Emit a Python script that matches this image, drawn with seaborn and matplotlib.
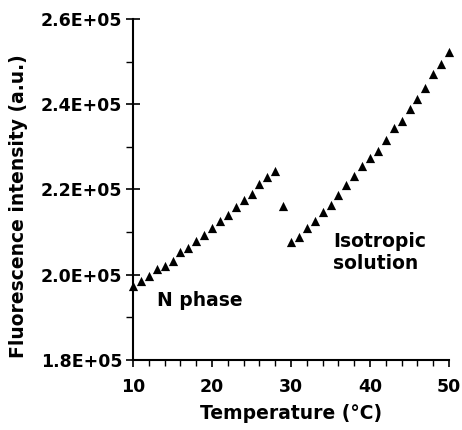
import matplotlib
matplotlib.use("Agg")
import matplotlib.pyplot as plt
import seaborn as sns
import pandas as pd
from matplotlib.ticker import MultipleLocator

sns.set_theme(style="white")
plt.rcParams['font.family'] = ['DejaVu Sans']
plt.rcParams['font.weight'] = 'bold'
plt.rcParams['text.color'] = 'black'
plt.rcParams['axes.labelcolor'] = 'black'
plt.rcParams['xtick.color'] = 'black'
plt.rcParams['ytick.color'] = 'black'

temperature = list(range(10, 51))
intensity = [197300, 198400, 199600, 201300, 202000, 203100, 205200, 206300, 208000, 209400,
             211000, 212700, 214100, 215800, 217600, 218900, 221200, 222800, 224300, 216200,
             207700, 208900, 210900, 212600, 214800, 216400, 218800, 221000, 223200, 225400,
             227300, 229100, 231700, 234500, 236000, 238800, 241300, 243800, 247000, 249500,
             252200]
x_ticks = [10, 20, 30, 40, 50]
y_ticks = [180000, 200000, 220000, 240000, 260000]
y_tick_labels = ["1.8E+05", "2.0E+05", "2.2E+05", "2.4E+05", "2.6E+05"]

df = pd.DataFrame({"Temperature": temperature, "Intensity": intensity})

fig = plt.figure(figsize=(4.62, 4.30), dpi=100)
ax = fig.add_axes([0.288, 0.163, 0.684, 0.793])
sns.scatterplot(data=df, x="Temperature", y="Intensity", marker="^", color="black",
                s=44, linewidth=0, ax=ax, clip_on=False, zorder=3)

ax.set_xlim(10, 50)
ax.set_ylim(180000, 260000)
ax.set_xticks(x_ticks)
ax.set_yticks(y_ticks)
ax.set_yticklabels(y_tick_labels)
ax.xaxis.set_minor_locator(MultipleLocator(2))
ax.yaxis.set_minor_locator(MultipleLocator(10000))

for s in ["top", "right"]:
    ax.spines[s].set_visible(False)
for s in ["left", "bottom"]:
    ax.spines[s].set_color("black")
    ax.spines[s].set_linewidth(1.5)

ax.tick_params(axis="x", which="major", direction="out", length=5, width=1.2, colors="black",
               labelsize=12.5, pad=8, bottom=True)
ax.tick_params(axis="x", which="minor", direction="out", length=4, width=1.0, colors="black", bottom=True)
ax.tick_params(axis="y", which="major", direction="inout", length=9.5, width=1.2, colors="black",
               labelsize=12.5, pad=3, left=True)
ax.tick_params(axis="y", which="minor", direction="out", length=5, width=1.0, colors="black", left=True)
for lbl in ax.get_xticklabels() + ax.get_yticklabels():
    lbl.set_fontweight("bold")
    lbl.set_color("black")

ax.set_xlabel("Temperature (°C)", fontsize=13.5, fontweight="bold", labelpad=6, color="black")
ax.set_ylabel("Fluorescence intensity (a.u.)", fontsize=13.5, fontweight="bold", color="black")
ax.yaxis.set_label_coords(-0.332, 0.45)

ax.text(13.0, 193900, "N phase", fontsize=13.5, fontweight="bold", va="center", ha="left", color="black")
ax.text(35.3, 205200, "Isotropic\nsolution", fontsize=13.5, fontweight="bold", va="center",
        ha="left", linespacing=1.15, color="black")

ax.grid(False)
fig.savefig("out.png", dpi=100)
